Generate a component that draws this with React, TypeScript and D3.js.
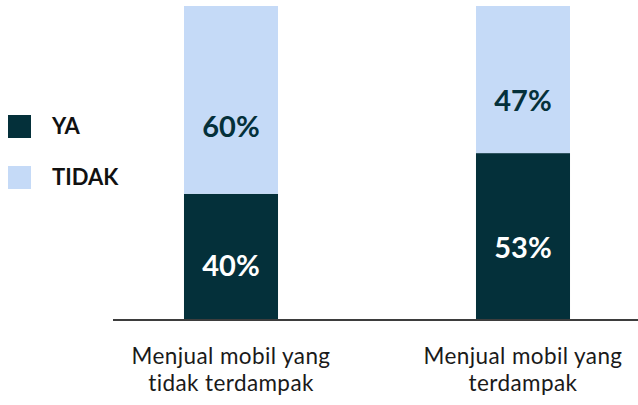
import React from "react";
import * as d3 from "d3";

const categories = ["Menjual mobil yang|tidak terdampak", "Menjual mobil yang|terdampak"];
const seriesNames = ["YA", "TIDAK"];
const yaValues = [0.4, 0.53];
const tidakValues = [0.6, 0.47];
const colors = ["#04303A", "#C5DAF7"];

const W = 638;
const H = 405;

export default function App() {
  const x = d3
    .scaleBand<string>()
    .domain(categories)
    .range([85, 669])
    .paddingInner(0.678)
    .paddingOuter(0.339);
  const y = d3.scaleLinear().domain([0, 1]).range([319, 6]);

  const rows = categories.map((c, i) => ({ c, ya: yaValues[i], tidak: tidakValues[i] }));
  const stack = d3.stack<any>().keys(["ya", "tidak"])(rows);
  const font = "Lato, 'Open Sans', sans-serif";
  const labelFrac = [0.57, 0.64];
  const labelColor = ["#ffffff", "#04303A"];

  return (
    <svg width={W} height={H} style={{ position: "absolute", left: 0, top: 0 }} fontFamily={font}>
      <rect width={W} height={H} fill="#fff" />
      {stack.map((layer, li) => (
        <g key={li}>
          {layer.map((d, i) => {
            const x0 = x(categories[i])!;
            const top = y(d[1]);
            const bot = y(d[0]);
            const val = d[1] - d[0];
            return (
              <g key={i}>
                <rect x={x0} y={top} width={x.bandwidth()} height={bot - top} fill={colors[li]} />
                <text
                  x={x0 + x.bandwidth() / 2}
                  y={top + (bot - top) * labelFrac[li]}
                  dy="0.36em"
                  textAnchor="middle"
                  fontSize={29}
                  fontWeight={700}
                  fill={labelColor[li]}
                >
                  {d3.format(".0%")(val)}
                </text>
              </g>
            );
          })}
        </g>
      ))}
      <line x1={113} x2={638} y1={320} y2={320} stroke="#3d3d3d" strokeWidth={2} />
      {categories.map((c, i) => {
        const cx = x(c)! + x.bandwidth() / 2;
        return c.split("|").map((line, j) => (
          <text
            key={c + j}
            x={cx}
            y={364 + j * 27}
            textAnchor="middle"
            fontSize={22.5}
            letterSpacing={0.4}
            fill="#1a1a1a"
          >
            {line}
          </text>
        ));
      })}
      {seriesNames.map((s, i) => (
        <g key={s} transform={`translate(8, ${115 + i * 51})`}>
          <rect width={23} height={23} fill={colors[i]} />
          <text x={44} y={11.5} dy="0.36em" fontSize={22} fontWeight={700} fill="#111">
            {s}
          </text>
        </g>
      ))}
    </svg>
  );
}
